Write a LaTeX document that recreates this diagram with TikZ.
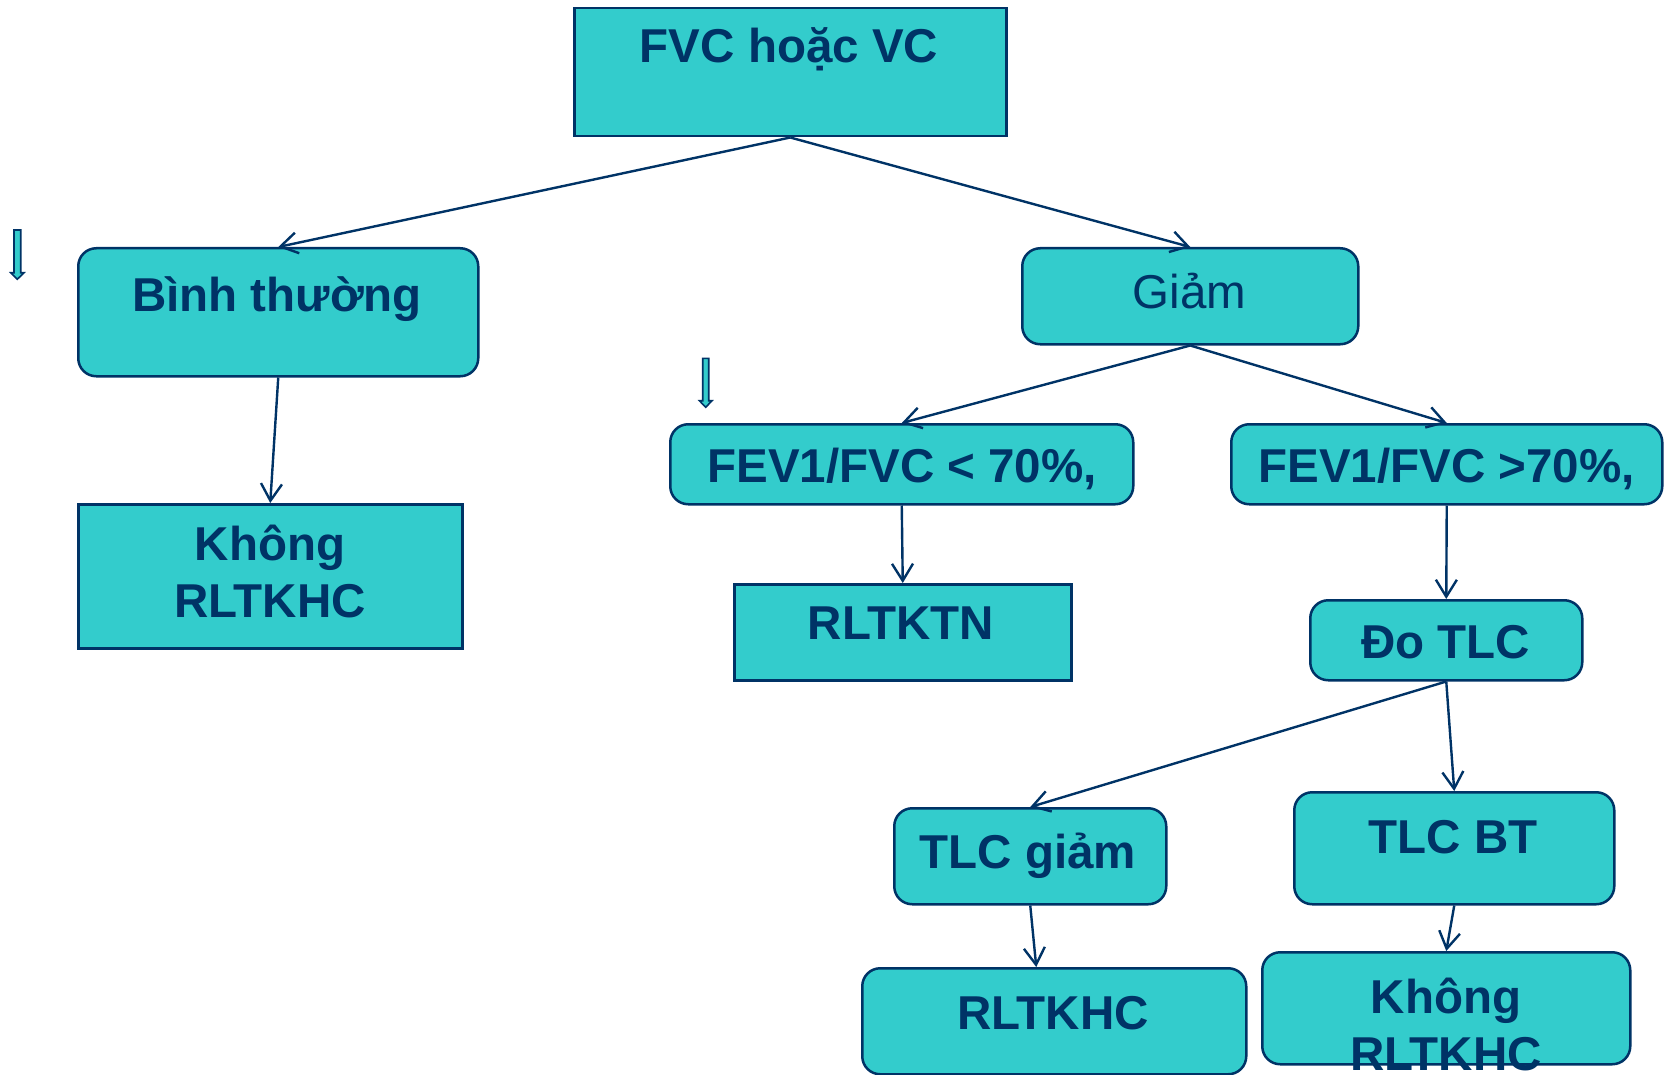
\documentclass[tikz,border=0pt]{standalone}
\usepackage{fontspec}
\setmainfont{Liberation Sans}
\usetikzlibrary{arrows.meta,calc}
\definecolor{ink}{HTML}{003366}
\definecolor{boxfill}{HTML}{33CCCC}
\begin{document}
\begin{tikzpicture}[x=1pt,y=-1pt,
  box/.style={draw=ink, fill=boxfill, line width=2.5pt, inner sep=0pt, anchor=north west},
  rbox/.style={box, rounded corners=18pt},
  txt/.style={text=ink, anchor=base, inner sep=0pt, font=\fontsize{47.5pt}{57pt}\selectfont\bfseries},
  plain/.style={text=ink, anchor=base, inner sep=0pt, font=\fontsize{47.5pt}{57pt}\selectfont},
  arr/.style={draw=ink, line width=2.4pt, -{Straight Barb[length=17pt,width=21pt]}},
  blockarrow/.style={draw=ink, fill=boxfill, line width=1.6pt, line join=miter}
]
\useasboundingbox (0,0) rectangle (1664,1075);

% boxes
\node[box,  minimum width=432pt, minimum height=128pt] (fvc)    at (573,7)   {};
\node[rbox, minimum width=400pt, minimum height=128pt] (binh)   at (77,247)  {};
\node[box,  minimum width=384pt, minimum height=144pt] (khongL) at (77,503)  {};
\node[rbox, minimum width=336pt, minimum height=96pt]  (giam)   at (1021,247) {};
\node[rbox, minimum width=463pt, minimum height=80pt]  (fevA)   at (669,423) {};
\node[rbox, minimum width=431pt, minimum height=80pt]  (fevB)   at (1230,423) {};
\node[box,  minimum width=337pt, minimum height=96pt]  (rltktn) at (733,583) {};
\node[rbox, minimum width=272pt, minimum height=80pt]  (dotlc)  at (1309,599) {};
\node[rbox, minimum width=272pt, minimum height=96pt]  (tlcg)   at (893,807) {};
\node[rbox, minimum width=320pt, minimum height=112pt] (tlcbt)  at (1293,791) {};
\node[rbox, minimum width=384pt, minimum height=106pt] (rlkhc)  at (861,967) {};
\node[rbox, minimum width=368pt, minimum height=112pt] (khongR) at (1261,951) {};

% labels
\node[txt]   at (789,63)     {FVC hoặc VC};
\node[txt]   at (277,311)    {Bình thường};
\node[txt]   at (270,560)    {Không};
\node[txt]   at (270,617)    {RLTKHC};
\node[plain] at (1189.5,308.5) {Giảm};
\node[txt]   at (902,482)    {FEV1/FVC < 70\%,};
\node[txt]   at (1446.5,482) {FEV1/FVC >70\%,};
\node[txt]   at (901,639)    {RLTKTN};
\node[txt]   at (1445.5,658) {Đo TLC};
\node[txt]   at (1028,868)   {TLC giảm};
\node[txt]   at (1453,853.5) {TLC BT};
\node[txt]   at (1053,1029)  {RLTKHC};
\node[txt]   at (1446,1013)  {Không};
\node[txt]   at (1446,1070)  {RLTKHC};

% connectors
\draw[arr] (fvc.south)   -- (binh.north);
\draw[arr] (fvc.south)   -- (giam.north);
\draw[arr] (binh.south)  -- (khongL.north);
\draw[arr] (giam.south)  -- (fevA.north);
\draw[arr] (giam.south)  -- (fevB.north);
\draw[arr] (fevA.south)  -- (rltktn.north);
\draw[arr] (fevB.south)  -- (dotlc.north);
\draw[arr] (dotlc.south) -- (tlcg.north);
\draw[arr] (dotlc.south) -- (tlcbt.north);
\draw[arr] (tlcg.south)  -- ([xshift=-18pt]rlkhc.north);
\draw[arr] (tlcbt.south) -- (khongR.north);

% small down arrows
\draw[blockarrow] (14,230) -- (20.7,230) -- (20.7,272.7) -- (24,272.7) -- (17.3,279.3)
  -- (10.7,272.7) -- (14,272.7) -- cycle;
\draw[blockarrow] (702.7,358.3) -- (708.7,358.3) -- (708.7,400.7) -- (712,400.7) -- (705.7,407.3)
  -- (699.4,400.7) -- (702.7,400.7) -- cycle;
\end{tikzpicture}
\end{document}
